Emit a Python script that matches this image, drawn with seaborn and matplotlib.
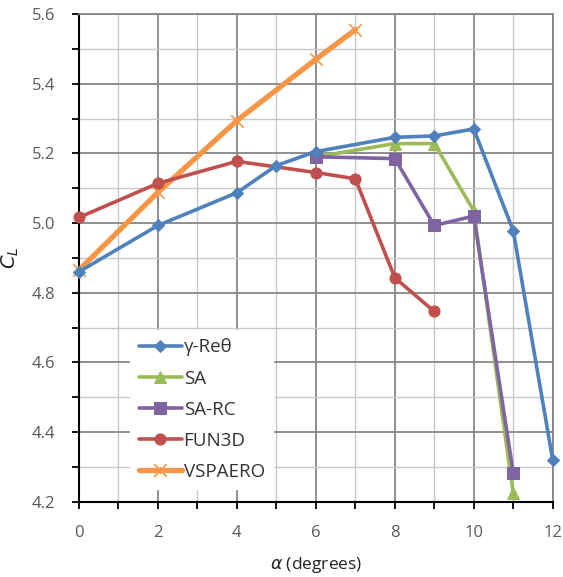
import numpy as np
import pandas as pd
import matplotlib
matplotlib.use("Agg")
import matplotlib.pyplot as plt
import seaborn as sns
from matplotlib.path import Path
from matplotlib.ticker import MultipleLocator, FormatStrFormatter

# ---- data ----
gamma_alpha = [0, 2, 4, 5, 6, 8, 9, 10, 11, 12]
gamma_cl = [4.860, 4.993, 5.087, 5.165, 5.205, 5.246, 5.250, 5.270, 4.978, 4.320]

sa_alpha = [6, 8, 9, 10, 11]
sa_cl = [5.190, 5.228, 5.228, 5.035, 4.225]

sarc_alpha = [6, 8, 9, 10, 11]
sarc_cl = [5.190, 5.185, 4.993, 5.020, 4.283]

fun3d_alpha = [0, 2, 4, 6, 7, 8, 9]
fun3d_cl = [5.016, 5.114, 5.177, 5.145, 5.127, 4.843, 4.746]

vsp_alpha = [0, 2, 4, 6, 7]
vsp_cl = [4.865, 5.088, 5.294, 5.470, 5.555]

labels = ["γ-Reθ", "SA", "SA-RC", "FUN3D", "VSPAERO"]

sns.set_theme(style="white")
plt.rcParams['font.family'] = ['Open Sans', 'DejaVu Sans']
plt.rcParams['mathtext.fontset'] = 'custom'
plt.rcParams['mathtext.it'] = 'DejaVu Sans:italic'

fig = plt.figure(figsize=(5.63, 5.77), dpi=100)
ax = fig.add_axes([79/563, 1-501.7/577, (552.7-79)/563, (501.7-14)/577])

star = Path([(-1, -1), (1, 1), (-1, 1), (1, -1), (0, -0.6), (0, 0.6)],
            [Path.MOVETO, Path.LINETO, Path.MOVETO, Path.LINETO, Path.MOVETO, Path.LINETO])

series = [
    (gamma_alpha, gamma_cl, labels[0], "#4F81BD", "D", 2.6, 6.5, 4),
    (sa_alpha, sa_cl, labels[1], "#9BBB59", "^", 2.6, 8, 3),
    (sarc_alpha, sarc_cl, labels[2], "#8064A2", "s", 2.6, 8, 3.5),
    (fun3d_alpha, fun3d_cl, labels[3], "#C0504D", "o", 2.6, 8, 3.2),
    (vsp_alpha, vsp_cl, labels[4], "#F79646", star, 3.8, 8, 3.1),
]

for xs, ys, lab, col, mk, lw, ms, z in series:
    df = pd.DataFrame({"alpha": xs, "cl": ys})
    kw = dict(marker=mk, markersize=ms, markeredgecolor=col, markerfacecolor=col)
    if mk is star:
        kw.update(markeredgewidth=1.2, markersize=9)
    sns.lineplot(data=df, x="alpha", y="cl", ax=ax, color=col, linewidth=lw,
                 label=lab, zorder=z, sort=False, clip_on=False, **kw)

ax.set_xlim(0, 12)
ax.set_ylim(4.2, 5.6)
ax.xaxis.set_major_locator(MultipleLocator(2))
ax.xaxis.set_minor_locator(MultipleLocator(1))
ax.yaxis.set_major_locator(MultipleLocator(0.2))
ax.yaxis.set_minor_locator(MultipleLocator(0.1))
ax.yaxis.set_major_formatter(FormatStrFormatter('%.1f'))

ax.grid(True, which='major', color='#868686', linewidth=1.3)
ax.grid(True, which='minor', color='#c8c8c8', linewidth=1.0)
ax.set_axisbelow(True)

for s in ['top', 'right']:
    ax.spines[s].set_color('#868686')
    ax.spines[s].set_linewidth(1.3)
for s in ['left', 'bottom']:
    ax.spines[s].set_color('black')
    ax.spines[s].set_linewidth(1.5)

ax.tick_params(which='both', direction='out', length=5, width=1.3, color='black',
               left=True, bottom=True, labelsize=12, labelcolor='#595959')
ax.tick_params(axis='y', which='major', pad=12)
ax.tick_params(axis='x', which='major', pad=12)

ax.set_xlabel(r"$\alpha$ (degrees)", fontsize=12.5, color='#222222', labelpad=10)
ax.set_ylabel(r"$C_L$", fontsize=14, color='#222222', labelpad=8)

leg = ax.legend(loc='upper left', bbox_to_anchor=(0.108, 0.352), frameon=True,
                fontsize=13.5, handlelength=2.3, handletextpad=0.1,
                labelspacing=0.7, borderpad=0.45, borderaxespad=0, fancybox=False)
leg.get_frame().set_facecolor('white')
leg.get_frame().set_edgecolor('white')
leg.get_frame().set_alpha(1)
for t in leg.get_texts():
    t.set_color('#333333')

fig.savefig("out.png", dpi=100)
